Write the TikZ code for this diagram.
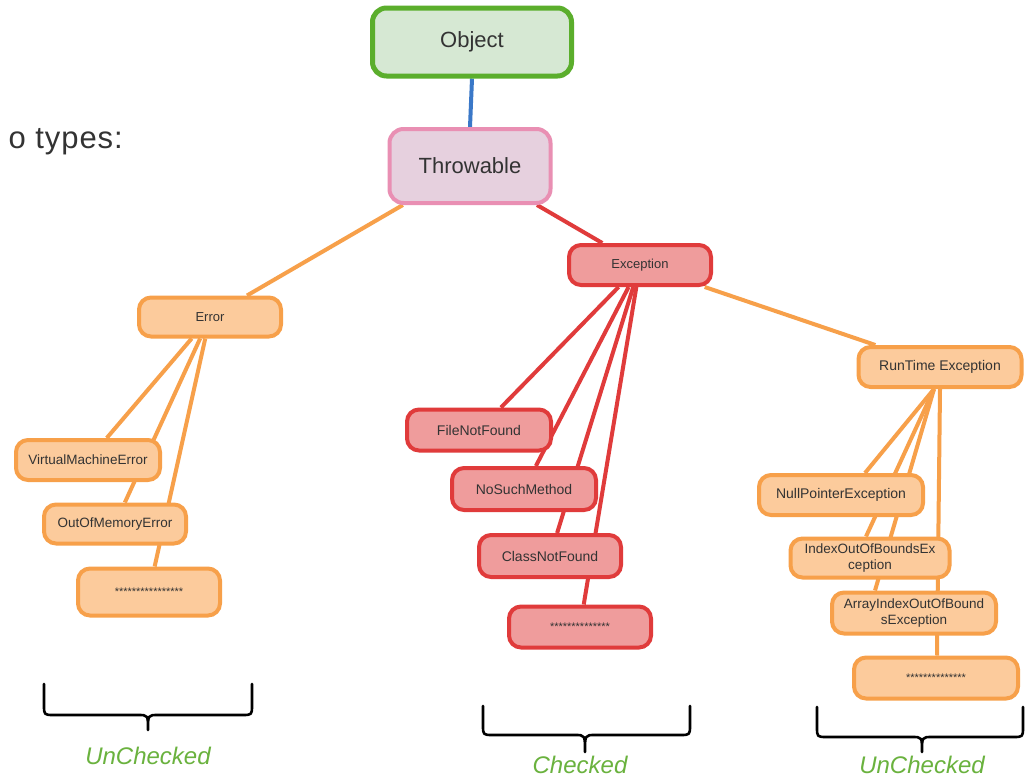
\documentclass[tikz,border=0pt]{standalone}
\usepackage{fontspec}
\setmainfont{Liberation Sans}
\pgfdeclarelayer{bg}
\pgfsetlayers{bg,main}
\definecolor{objborder}{HTML}{5BAE2C}
\definecolor{objfill}{HTML}{D6E8D3}
\definecolor{thrborder}{HTML}{E98FB3}
\definecolor{thrfill}{HTML}{E6D0DE}
\definecolor{orborder}{HTML}{F7A04A}
\definecolor{orfill}{HTML}{FCCB9C}
\definecolor{rdborder}{HTML}{E03B3B}
\definecolor{rdfill}{HTML}{EF9C9C}
\definecolor{blueline}{HTML}{3A78C8}
\definecolor{txt}{HTML}{333333}
\definecolor{lblgreen}{HTML}{6AB23E}
\tikzset{
  box/.style={draw, rounded corners=12pt, line width=4pt, inner sep=0pt, align=center, text=txt},
  orbox/.style={box, draw=orborder, fill=orfill},
  rdbox/.style={box, draw=rdborder, fill=rdfill},
  orline/.style={draw=orborder, line width=4pt},
  rdline/.style={draw=rdborder, line width=4pt},
  bracepath/.style={draw=black, line width=2.6pt, line cap=round, line join=round},
  grouplabel/.style={text=lblgreen, font=\fontsize{24}{28}\selectfont\itshape}
}
\begin{document}
\begin{tikzpicture}[x=1pt,y=-1pt]
\useasboundingbox (0,0) rectangle (1032,779);
\begin{pgfonlayer}{bg}
\fill[white] (0,0) rectangle (1032,779);
\end{pgfonlayer}

% header text
\node[anchor=east, inner sep=0pt, text=txt, font=\fontsize{31}{35}\selectfont\addfontfeatures{LetterSpace=3}] (types) at (123,142) {o types:};

% top nodes
\node[box, draw=objborder, fill=objfill, line width=5pt, rounded corners=14pt,
      minimum width=199pt, minimum height=68pt, font=\fontsize{22}{26}\selectfont] (obj) at (472,42) {Object};
\node[box, draw=thrborder, fill=thrfill, line width=4pt, rounded corners=14pt,
      minimum width=161pt, minimum height=74pt, font=\fontsize{22}{26}\selectfont] (thr) at (470,166) {Throwable};

% Error branch
\node[orbox, minimum width=142pt, minimum height=39pt, font=\fontsize{13}{15}\selectfont] (err) at (210,317) {Error};
\node[orbox, minimum width=144pt, minimum height=40pt, font=\fontsize{13.5}{15}\selectfont] (vme) at (88,460) {VirtualMachineError};
\node[orbox, minimum width=142pt, minimum height=39pt, font=\fontsize{13.5}{15}\selectfont] (oom) at (115,524) {OutOfMemoryError};
\node[orbox, minimum width=142pt, minimum height=47pt, font=\fontsize{11}{13}\selectfont] (errmore) at (149,592) {****************};

% Exception branch
\node[rdbox, minimum width=142pt, minimum height=40pt, font=\fontsize{13}{15}\selectfont] (exc) at (640,265) {Exception};
\node[rdbox, minimum width=144pt, minimum height=41pt, font=\fontsize{14}{16}\selectfont] (fnf) at (479,430) {FileNotFound};
\node[rdbox, minimum width=144pt, minimum height=42pt, font=\fontsize{14}{16}\selectfont] (nsm) at (524,489) {NoSuchMethod};
\node[rdbox, minimum width=142pt, minimum height=42pt, font=\fontsize{14}{16}\selectfont] (cnf) at (550,556) {ClassNotFound};
\node[rdbox, minimum width=142pt, minimum height=41pt, font=\fontsize{11}{13}\selectfont] (excmore) at (580,627) {**************};

% RunTime branch
\node[orbox, minimum width=163pt, minimum height=40pt, font=\fontsize{14}{16}\selectfont] (rt) at (940,367) {RunTime Exception};
\node[orbox, minimum width=164pt, minimum height=40pt, font=\fontsize{14}{16}\selectfont] (npe) at (841,495) {NullPointerException};
\node[orbox, minimum width=159pt, minimum height=39pt, font=\fontsize{13.5}{16}\selectfont] (ioobe) at (870,558) {IndexOutOfBoundsEx\\ception};
\node[orbox, minimum width=164pt, minimum height=41pt, font=\fontsize{13.5}{16}\selectfont] (aioobe) at (914,613) {ArrayIndexOutOfBound\\sException};
\node[orbox, minimum width=164pt, minimum height=41pt, font=\fontsize{11}{13}\selectfont] (rtmore) at (936,678) {**************};

% connectors (behind the nodes)
\begin{pgfonlayer}{bg}
\draw[draw=blueline, line width=4pt] (obj.south) -- (thr.north);
\draw[orline] (thr) -- (err);
\draw[rdline] (thr) -- (exc);
\draw[orline] (exc) -- (rt);
\draw[orline] (err) -- (vme);
\draw[orline] (err) -- (oom);
\draw[orline] (err) -- (errmore);
\draw[rdline] (exc) -- (fnf);
\draw[rdline] (exc) -- (nsm);
\draw[rdline] (exc) -- (cnf);
\draw[rdline] (exc) -- (excmore);
\draw[orline] ([xshift=-6pt]rt.south) -- ([xshift=24pt]npe.north);
\draw[orline] ([xshift=-6pt]rt.south) -- ([xshift=-4pt]ioobe.north);
\draw[orline] ([xshift=-6pt]rt.south) -- ([xshift=-39pt]aioobe.north);
\draw[orline] ([xshift=0pt]rt.south) -- ([xshift=1pt]rtmore.north);
\end{pgfonlayer}

% braces
\coordinate (b1) at (148,730);
\draw[bracepath] (44,684) -- (44,705) .. controls (44,715) .. (54,715) -- (138,715) .. controls (148,715) .. (b1) .. controls (148,715) .. (158,715) -- (242,715) .. controls (252,715) .. (252,705) -- (252,684);
\node[grouplabel] (l1) at (148,756) {UnChecked};

\coordinate (b2) at (585,752);
\draw[bracepath] (483,706) -- (483,725) .. controls (483,735) .. (493,735) -- (575,735) .. controls (585,735) .. (b2) .. controls (585,735) .. (595,735) -- (680,735) .. controls (690,735) .. (690,725) -- (690,706);
\node[grouplabel] (l2) at (580,765) {Checked};

\coordinate (b3) at (922,752);
\draw[bracepath] (817,707) -- (817,727) .. controls (817,737) .. (827,737) -- (912,737) .. controls (922,737) .. (b3) .. controls (922,737) .. (932,737) -- (1013,737) .. controls (1023,737) .. (1023,727) -- (1023,707);
\node[grouplabel] (l3) at (922,765) {UnChecked};
\end{tikzpicture}
\end{document}
